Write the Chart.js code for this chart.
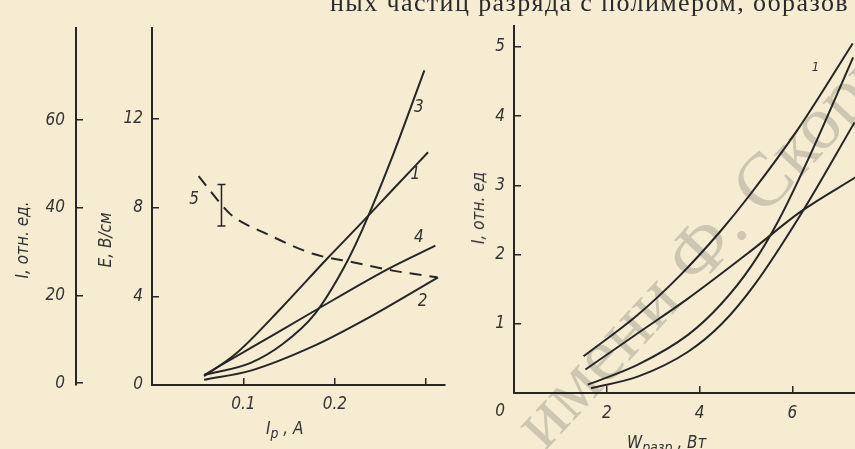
<!DOCTYPE html>
<html>
<head>
<meta charset="utf-8">
<script src="https://cdn.jsdelivr.net/npm/chart.js@4.4.0/dist/chart.umd.min.js"></script>
<style>
  body { margin: 0; width: 855px; height: 449px; overflow: hidden; position: relative; background: #f6ecd1; color: #333; }
  canvas { position: absolute; top: 0; z-index: 2; }
  #left { left: 0; }
  #right { left: 450px; }
  .lbl { position: absolute; z-index: 3; white-space: nowrap; font: italic 17px "DejaVu Sans Condensed", "DejaVu Sans", sans-serif; color: #333; }
  .rot { transform: translate(-50%, -50%) rotate(-90deg); }
  .head { position: absolute; z-index: 3; left: 330px; top: -10px; font: 26px/26px "Liberation Serif", serif; letter-spacing: 1.4px; color: #2a2a2a; white-space: nowrap; }
  .stamp { position: absolute; z-index: 1; left: 498px; top: 408px; transform-origin: 0 0; transform: rotate(-47deg);
           font: 76px/76px "Liberation Serif", serif; color: #cdc6b1; white-space: nowrap; }
</style>
</head>
<body>
<div class="head">ных частиц разряда с полимером, образов</div>
<div class="stamp">имени Ф. Скорины</div>

<canvas id="left" width="450" height="449"></canvas>
<canvas id="right" width="405" height="449"></canvas>

<div class="lbl rot" style="left:22px; top:240px;">I, отн. ед.</div>
<div class="lbl rot" style="left:105px; top:240px;">E, В/см</div>
<div class="lbl" style="left:266px; top:418px;">I<sub style="font-size:14px">p</sub> , A</div>
<div class="lbl rot" style="left:478px; top:208px;">I, отн. ед</div>
<div class="lbl" style="left:627px; top:432px;">W<sub style="font-size:14px">разр</sub> , Вт</div>

<script>
// left plot: I_p (A) vs E (V/cm), curves 1-4, dashed 5
const IP_TICKS = [0.1, 0.2, 0.3];
const IP_TICK_LABELS = ['0.1', '0.2', ''];
const E_TICKS = [0, 4, 8, 12];
const I_LEFT_TICKS = [0, 20, 40, 60];

const ip1 = [0.057, 0.092, 0.142, 0.192, 0.230, 0.263, 0.302];
const e1  = [0.40, 1.42, 3.50, 5.72, 7.35, 8.80, 10.5];
const ip2 = [0.057, 0.108, 0.179, 0.233, 0.313];
const e2  = [0.24, 0.65, 1.80, 2.95, 4.86];
const ip3 = [0.057, 0.108, 0.143, 0.178, 0.210, 0.230, 0.262, 0.298];
const e3  = [0.45, 1.00, 1.85, 3.20, 5.30, 7.00, 10.2, 14.2];
const ip4 = [0.057, 0.111, 0.178, 0.258, 0.310];
const e4  = [0.45, 1.74, 3.35, 5.23, 6.29];
const ip5 = [0.051, 0.076, 0.088, 0.126, 0.177, 0.221, 0.265, 0.312];
const e5  = [9.42, 8.14, 7.63, 6.81, 5.91, 5.53, 5.15, 4.86];
const errIp = [0.076, 0.076];
const errE  = [7.18, 9.05];

// right plot: W_разр (W) vs I
const W_TICKS = [2, 4, 6];
const I_RIGHT_TICKS = [1, 2, 3, 4, 5];

const wA = [1.50, 2.65, 3.58, 4.44, 5.07, 6.14, 7.30];
const iA = [0.53, 1.12, 1.70, 2.33, 2.85, 3.83, 5.05];
const wB = [1.54, 2.66, 3.74, 5.10, 6.18, 7.37];
const iB = [0.34, 0.86, 1.36, 2.05, 2.62, 3.12];
const wC = [1.59, 2.67, 3.75, 4.47, 5.11, 5.70, 6.35, 7.31];
const iC = [0.12, 0.41, 0.84, 1.29, 1.83, 2.49, 3.39, 4.85];
const wD = [1.66, 2.68, 3.76, 4.48, 5.19, 6.18, 7.34];
const iD = [0.07, 0.24, 0.60, 1.00, 1.57, 2.58, 3.91];

const INK = '#262626';
const FAMILY = '"DejaVu Sans Condensed", "DejaVu Sans", sans-serif';

Chart.defaults.font.family = FAMILY;
Chart.defaults.font.style = 'italic';
Chart.defaults.font.size = 17;
Chart.defaults.color = '#333';
Chart.defaults.animation = false;

const pts = (xs, ys) => xs.map((x, i) => ({ x: x, y: ys[i] }));

function curve(xs, ys, extra) {
  return Object.assign({
    data: pts(xs, ys),
    borderColor: INK,
    borderWidth: 2,
    pointRadius: 0,
    fill: false,
    cubicInterpolationMode: 'monotone'
  }, extra || {});
}

// axis with inward ticks and a fixed box size
function axis(opts) {
  return {
    type: 'linear',
    position: opts.position,
    weight: opts.weight || 0,
    min: opts.min,
    max: opts.max,
    afterBuildTicks: s => { s.ticks = opts.ticks.map(v => ({ value: v })); },
    afterFit: s => { if (opts.width) s.width = opts.width; if (opts.height) s.height = opts.height; },
    border: { display: true, color: INK, width: 2 },
    grid: { drawOnChartArea: false, tickLength: -7, color: INK, lineWidth: 1.5 },
    ticks: {
      padding: opts.padding,
      autoSkip: false,
      maxRotation: 0,
      callback: opts.labels ? (v, i) => opts.labels[i] : (v => String(v))
    }
  };
}

// curve numbers, placed in data units
const curveLabels = {
  id: 'curveLabels',
  afterDatasetsDraw(chart, args, opts) {
    const ctx = chart.ctx;
    const xs = chart.scales.x, ys = chart.scales.y;
    ctx.save();
    ctx.fillStyle = '#333';
    ctx.textAlign = 'center';
    ctx.textBaseline = 'middle';
    opts.items.forEach(it => {
      ctx.font = 'italic ' + (it.size || 17) + 'px ' + FAMILY;
      ctx.fillText(it.text, xs.getPixelForValue(it.x), ys.getPixelForValue(it.y));
    });
    ctx.restore();
  }
};

new Chart(document.getElementById('left'), {
  type: 'line',
  data: {
    datasets: [
      curve(ip1, e1),
      curve(ip2, e2),
      curve(ip3, e3),
      curve(ip4, e4),
      curve(ip5, e5, { borderDash: [12, 8] }),
      curve(errIp, errE, { borderWidth: 1.5, cubicInterpolationMode: 'default', tension: 0,
                           pointStyle: 'line', pointRadius: 4, pointBorderWidth: 1.5, pointBorderColor: INK })
    ]
  },
  plugins: [curveLabels],
  options: {
    responsive: false,
    layout: { padding: { left: 0, right: 4, top: 15, bottom: 0 } },
    plugins: {
      legend: { display: false },
      tooltip: { enabled: false },
      curveLabels: { items: [
        { text: '3', x: 0.292, y: 12.5 },
        { text: '1', x: 0.288, y: 9.5 },
        { text: '4', x: 0.292, y: 6.65 },
        { text: '2', x: 0.296, y: 3.75 },
        { text: '5', x: 0.046, y: 8.37 }
      ] }
    },
    scales: {
      x: axis({ position: 'bottom', min: 0, max: 0.32, ticks: IP_TICKS, labels: IP_TICK_LABELS, height: 64, padding: 16 }),
      y: axis({ position: 'left', weight: 0, min: 0, max: 16.1, ticks: E_TICKS, width: 76, padding: 16 }),
      yI: axis({ position: 'left', weight: 1, min: -0.4, max: 81, ticks: I_LEFT_TICKS, width: 76, padding: 18 })
    }
  }
});

new Chart(document.getElementById('right'), {
  type: 'line',
  data: {
    datasets: [
      curve(wA, iA),
      curve(wB, iB),
      curve(wC, iC),
      curve(wD, iD)
    ]
  },
  plugins: [curveLabels],
  options: {
    responsive: false,
    layout: { padding: { left: 0, right: 0, top: 22, bottom: 0 } },
    plugins: {
      legend: { display: false },
      tooltip: { enabled: false },
      curveLabels: { items: [
        { text: '1', x: 6.5, y: 4.7, size: 13 },
        { text: '0', x: -0.3, y: -0.27 }
      ] }
    },
    scales: {
      x: axis({ position: 'bottom', min: 0, max: 7.35, ticks: W_TICKS, height: 56, padding: 17 }),
      y: axis({ position: 'left', min: 0, max: 5.3, ticks: I_RIGHT_TICKS, width: 64, padding: 16 })
    }
  }
});
</script>
</body>
</html>
